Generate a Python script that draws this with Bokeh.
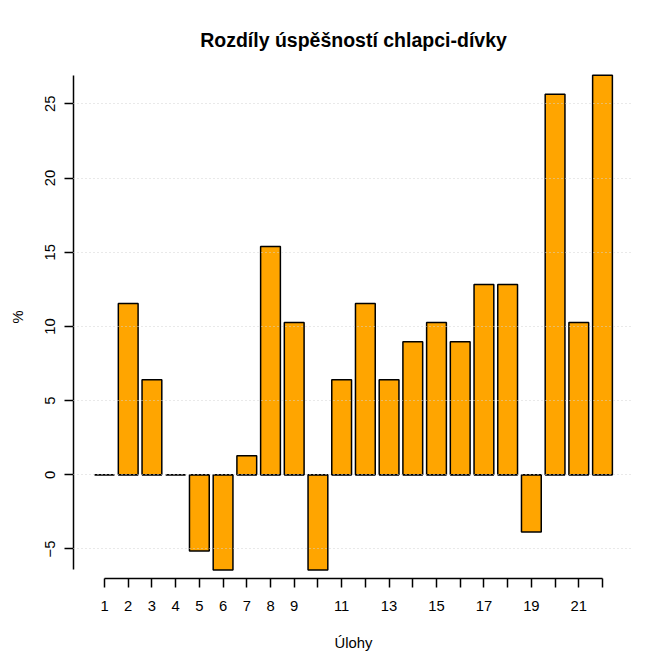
from bokeh.plotting import figure
from bokeh.models import FixedTicker, Range1d, ColumnDataSource
from bokeh.embed import file_html
from bokeh.resources import INLINE

# --- data ---
tasks = list(range(1, 23))
diffs = [0.0, 11.54, 6.41, 0.0, -5.13, -6.41, 1.28, 15.38, 10.26, -6.41, 6.41,
         11.54, 6.41, 8.97, 10.26, 8.97, 12.82, 12.82, -3.85, 25.64, 10.26, 26.92]
x_tick_labels = {1: "1", 2: "2", 3: "3", 4: "4", 5: "5", 6: "6", 7: "7", 8: "8", 9: "9",
                 11: "11", 13: "13", 15: "15", 17: "17", 19: "19", 21: "21"}
y_ticks = [-5, 0, 5, 10, 15, 20, 25]

title_text = "Rozdíly úspěšností chlapci-dívky"
x_label = "Úlohy"
y_label = "%"

FONT = "Liberation Sans"
BAR_W = 1 / 1.2

p = figure(width=663, height=662, output_backend="svg", toolbar_location=None,
           x_range=Range1d(-0.307, 23.307), y_range=Range1d(-6.988, 28.255),
           min_border_left=73, min_border_right=30, min_border_top=55, min_border_bottom=84)
p.outline_line_color = None
p.background_fill_color = "white"
p.border_fill_color = "white"

src = ColumnDataSource(dict(
    x=tasks, top=diffs,
    x0=[t - BAR_W / 2 for t in tasks], x1=[t + BAR_W / 2 for t in tasks],
    zero=[0] * len(tasks)))

p.vbar(x="x", top="top", bottom=0, width=BAR_W, source=src,
       fill_color="#FFA500", line_color="black", line_width=1.5)
p.segment(x0="x0", x1="x1", y0="zero", y1="zero", source=src,
          line_color="black", line_width=1.5)

# grid (drawn over bars, as in the original)
p.xgrid.visible = False
p.ygrid.ticker = FixedTicker(ticks=y_ticks)
p.ygrid.grid_line_color = "#d3d3d3"
p.ygrid.grid_line_dash = "1 3"
p.ygrid.grid_line_width = 1
p.ygrid.level = "overlay"

# title
p.title.text = title_text
p.title.align = "center"
p.title.text_font = FONT
p.title.text_font_size = "19.5px"
p.title.text_font_style = "bold"
p.title.text_color = "black"
p.title.standoff = 9

# x axis
xa = p.xaxis[0]
xa.ticker = FixedTicker(ticks=tasks)
xa.major_label_overrides = {t: x_tick_labels.get(t, "") for t in tasks}
xa.bounds = (min(tasks), max(tasks))
xa.minor_tick_line_color = None
xa.major_tick_in = 0
xa.major_tick_out = 9
xa.major_label_standoff = 13
xa.axis_label = x_label
xa.axis_label_standoff = 21
for ax in (p.xaxis[0], p.yaxis[0]):
    ax.major_label_text_font = FONT
    ax.major_label_text_font_size = "14.8px"
    ax.major_label_text_color = "black"
    ax.axis_label_text_font = FONT
    ax.axis_label_text_font_size = "14.8px"
    ax.axis_label_text_font_style = "normal"
    ax.axis_label_text_color = "black"
    ax.axis_line_color = "black"
    ax.axis_line_width = 1.5
    ax.major_tick_line_color = "black"
    ax.major_tick_line_width = 1.5

# y axis
ya = p.yaxis[0]
ya.ticker = FixedTicker(ticks=y_ticks)
ya.bounds = (min(diffs), max(diffs))
ya.minor_tick_line_color = None
ya.major_tick_in = 0
ya.major_tick_out = 9
ya.major_label_standoff = 9
ya.major_label_orientation = "vertical"
ya.axis_label = y_label
ya.axis_label_standoff = 17

open("out.html", "w").write(file_html(p, INLINE))
